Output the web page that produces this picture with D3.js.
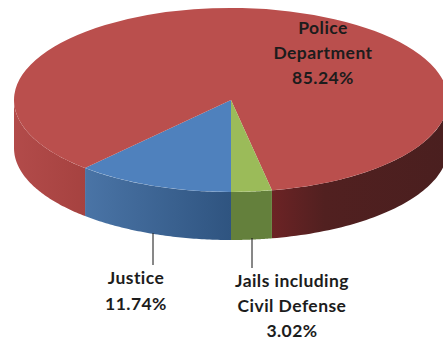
<!DOCTYPE html>
<html>
<head>
<meta charset="utf-8">
<script src="https://cdn.jsdelivr.net/npm/d3@7"></script>
<style>
  html, body { margin: 0; padding: 0; background: #fff; }
  svg { display: block; }
  text { font-family: Lato, "Open Sans", sans-serif; font-weight: 700; font-size: 17.5px; letter-spacing: 0.45px; fill: #1c1c1c; text-anchor: middle; }
</style>
</head>
<body>
<svg id="chart" width="443" height="341"></svg>
<script>
// Budget shares, listed clockwise from the front of the pie
const categories = ["Justice", "Police Department", "Jails including Civil Defense"];
const shares = [11.74, 85.24, 3.02];
const topColors = ["#4f81bd", "#ba4f4d", "#9bbb59"];
const labelLines = [
  ["Justice", "11.74%"],
  ["Police", "Department", "85.24%"],
  ["Jails including", "Civil Defense", "3.02%"]
];

const width = 443, height = 341;
const cx = 231, cy = 100, rx = 217, ry = 92, depth = 48;

const svg = d3.select("#chart");
const defs = svg.append("defs");

// Pie angles run clockwise from the front edge, all the way round
const pie = d3.pie().sort(null).startAngle(Math.PI).endAngle(3 * Math.PI);
const arcs = pie(shares);

const x = d3.scaleLinear().domain([-1, 1]).range([cx - rx, cx + rx]);
const y = d3.scaleLinear().domain([-1, 1]).range([cy - ry, cy + ry]);
const rimX = a => x(Math.sin(a));
const rimY = a => y(-Math.cos(a));

// Each wall is shaded by a horizontal gradient, left colour to right colour
const wallFill = (id, x0, x1, stops) => {
  const g = defs.append("linearGradient")
    .attr("id", id)
    .attr("gradientUnits", "userSpaceOnUse")
    .attr("x1", x0).attr("x2", x1).attr("y1", 0).attr("y2", 0);
  stops.forEach(([offset, color]) => {
    g.append("stop").attr("offset", offset).attr("stop-color", color);
  });
  return `url(#${id})`;
};

const wallShades = {
  justice: [[0, "#4a74a6"], [1, "#2f5480"]],
  policeLeft: [[0, "#b24b4a"], [1, "#a64240"]],
  policeRight: [[0, "#6c2325"], [0.3, "#512020"], [1, "#4a1f1f"]],
  jails: [[0, "#64803c"], [1, "#64803c"]]
};

// Only the parts of the rim facing the viewer get a wall
const frontSpans = [[Math.PI / 2, 3 * Math.PI / 2], [5 * Math.PI / 2, 7 * Math.PI / 2]];
const shadeKeys = ["justice", "police", "jails"];
const line = d3.line();
const walls = svg.append("g");

arcs.forEach((d, i) => {
  frontSpans.forEach(([lo, hi], s) => {
    const a0 = Math.max(d.startAngle, lo), a1 = Math.min(d.endAngle, hi);
    if (a1 <= a0) return;
    const angles = d3.range(0, 61).map(k => a0 + (a1 - a0) * k / 60);
    const upper = angles.map(a => [rimX(a), rimY(a)]);
    const lower = angles.slice().reverse().map(a => [rimX(a), rimY(a) + depth]);
    const [xMin, xMax] = d3.extent(upper, p => p[0]);
    let key = shadeKeys[i];
    if (key === "police") key = s === 0 ? "policeLeft" : "policeRight";
    walls.append("path")
      .attr("d", line(upper.concat(lower)) + "Z")
      .attr("fill", wallFill("wall-" + key, xMin, xMax, wallShades[key]));
  });
});

// Top face: a flat d3 arc squashed vertically into an ellipse
const arc = d3.arc().innerRadius(0).outerRadius(rx);
svg.append("g")
  .attr("transform", `translate(${cx},${cy}) scale(1,${ry / rx})`)
  .selectAll("path")
  .data(arcs)
  .join("path")
  .attr("d", arc)
  .attr("fill", (d, i) => topColors[i]);

// Leader lines for the two small slices
const leaders = [
  { x: 153, y1: 233, y2: 265 },
  { x: 252, y1: 238, y2: 268 }
];
svg.append("g").selectAll("line")
  .data(leaders)
  .join("line")
  .attr("x1", d => d.x).attr("x2", d => d.x)
  .attr("y1", d => d.y1).attr("y2", d => d.y2)
  .attr("stroke", "#111")
  .attr("stroke-width", 1);

// Category labels with their percentages
const labelPlacement = [
  { x: 136, y: [284, 310] },
  { x: 323, y: [34, 59, 84] },
  { x: 292, y: [287, 312, 337] }
];
labelLines.forEach((lines, i) => {
  const t = svg.append("text").attr("aria-label", categories[i]);
  lines.forEach((s, k) => {
    t.append("tspan")
      .attr("x", labelPlacement[i].x)
      .attr("y", labelPlacement[i].y[k])
      .text(s);
  });
});
</script>
</body>
</html>
